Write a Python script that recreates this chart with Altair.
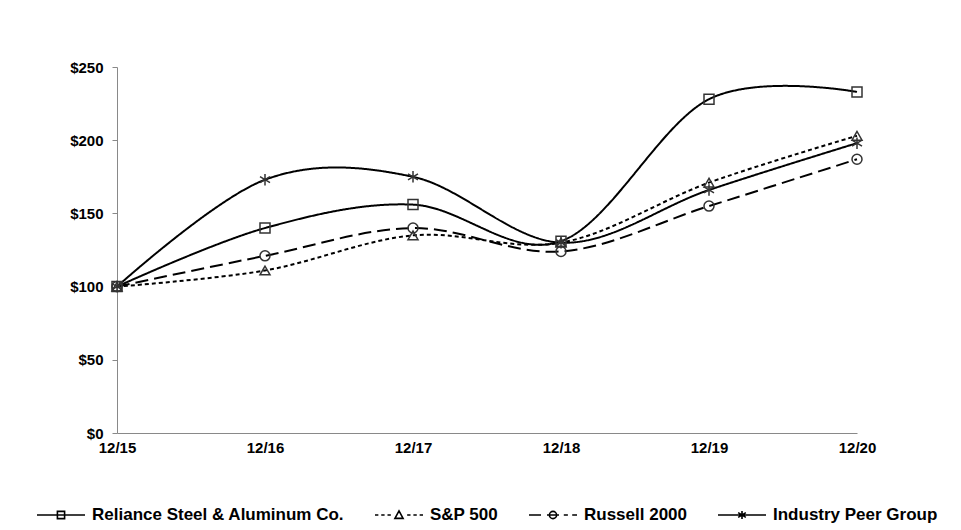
import altair as alt
import pandas as pd

dates = ["12/15", "12/16", "12/17", "12/18", "12/19", "12/20"]
series_names = ["Reliance Steel & Aluminum Co.", "S&P 500", "Russell 2000", "Industry Peer Group"]
reliance = [100, 140, 156, 131, 228, 233]
sp500 = [100, 111, 135, 130, 171, 203]
russell = [100, 121, 140, 124, 155, 187]
peer = [100, 173, 175, 130, 166, 198]

rows = []
for name, vals in zip(series_names, [reliance, sp500, russell, peer]):
    for d, v in zip(dates, vals):
        rows.append({"date": d, "series": name, "value": v})
df = pd.DataFrame(rows)

FONT = "Liberation Sans"
asterisk = "M0,-1.15V1.15M-1,-0.6L1,0.6M-1,0.6L1,-0.6"

# legend symbols: line stub + marker, in unit box
leg_paths = [
    "M-1,0H1M-0.15,-0.15H0.15V0.15H-0.15Z",
    "M-1,0H-0.86M-0.74,0H-0.6M-0.48,0H-0.34M0.34,0H0.48M0.6,0H0.74M0.86,0H1"
    "M0,-0.17L0.17,0.14L-0.17,0.14Z",
    "M-1,0H-0.5M-0.25,0H0.25M0.45,0H0.62M0.8,0H1"
    "M0.15,0A0.15,0.15 0 1,1 -0.15,0A0.15,0.15 0 1,1 0.15,0",
    "M-1,0H1M0,-0.17V0.17M-0.16,-0.1L0.16,0.1M-0.16,0.1L0.16,-0.1",
]

x_enc = alt.X("date:O", sort=dates, scale=alt.Scale(type="point", padding=0),
              axis=alt.Axis(title=None, labelAngle=0, ticks=False, labelPadding=7,
                            domainColor="#898989", labelFont=FONT, labelFontSize=15,
                            labelFontWeight="bold", labelColor="black"))
y_enc = alt.Y("value:Q", scale=alt.Scale(domain=[0, 250], nice=False, zero=True),
              axis=alt.Axis(title=None, values=[0, 50, 100, 150, 200, 250], format="$.0f",
                            grid=False, tickSize=5, tickColor="#898989", domainColor="#898989",
                            labelPadding=9, labelFont=FONT, labelFontSize=15,
                            labelFontWeight="bold", labelColor="black"))

lines = alt.Chart(df).mark_line(interpolate="cardinal", color="black", strokeWidth=2).encode(
    x=x_enc,
    y=y_enc,
    strokeDash=alt.StrokeDash(
        "series:N",
        scale=alt.Scale(domain=series_names, range=[[1, 0], [4, 3], [13, 6], [1, 0]]),
        legend=None,
    ),
    detail="series:N",
)

points = alt.Chart(df).mark_point(filled=False, strokeWidth=1.5, size=100, opacity=1,
                                  color="#333333").encode(
    x=alt.X("date:O", sort=dates),
    y="value:Q",
    shape=alt.Shape("series:N",
                    scale=alt.Scale(domain=series_names,
                                    range=["square", "triangle-up", "circle", asterisk]),
                    legend=None),
)

legend_layer = alt.Chart(df).mark_point(filled=False, opacity=0, color="black").encode(
    x=alt.X("date:O", sort=dates),
    y="value:Q",
    shape=alt.Shape(
        "series:N",
        scale=alt.Scale(domain=series_names, range=leg_paths),
        legend=alt.Legend(
            title=None, orient="none", direction="horizontal", legendX=-81, legendY=423,
            labelFont=FONT, labelFontSize=17, labelFontWeight="bold", labelColor="black",
            labelLimit=400,
            symbolSize=2304, labelOffset=6, columnPadding=26, symbolOpacity=1,
            symbolStrokeColor="black", symbolFillColor="transparent", symbolStrokeWidth=1.6,
        ),
    ),
)

chart = alt.layer(lines, points, legend_layer).resolve_scale(shape="independent").properties(
    width=740, height=366,
    autosize=alt.AutoSizeParams(type="none"),
    padding={"left": 109, "top": 59, "right": 85, "bottom": 90},
).configure_view(stroke=None)

chart.save("out.html", embed_options={"renderer": "svg", "actions": False})
